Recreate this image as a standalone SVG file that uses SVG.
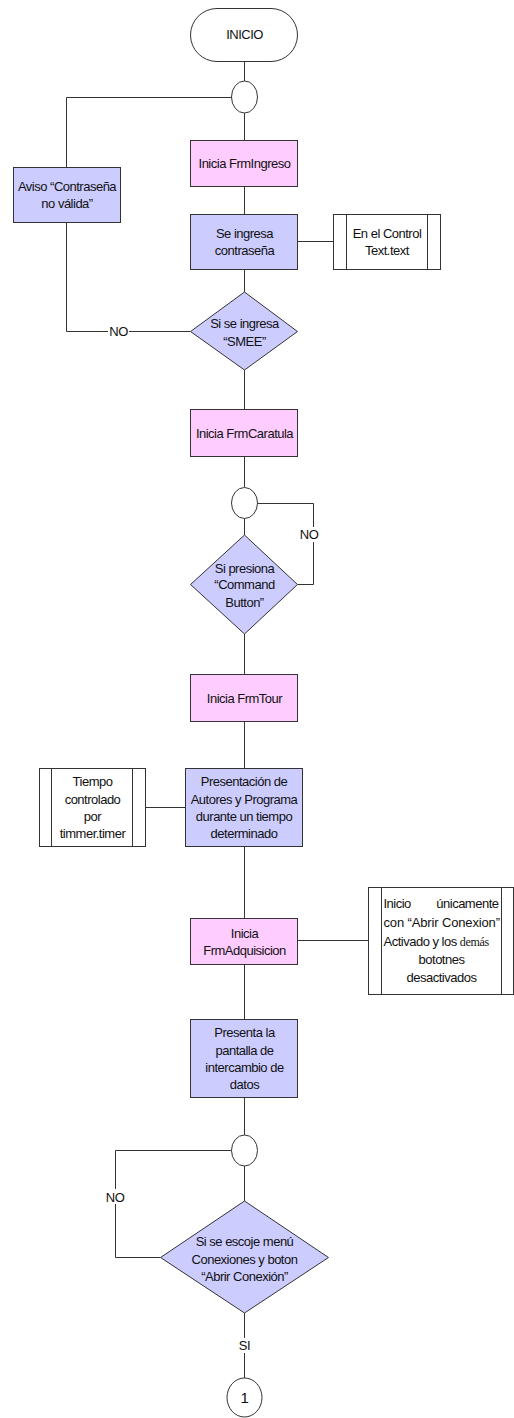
<svg xmlns="http://www.w3.org/2000/svg" width="514" height="1418" viewBox="0 0 514 1418">
  <style>
    .shape { stroke: #333; stroke-width: 1; }
    .proc { fill: #CCCCFF; }
    .form { fill: #FFCCFF; }
    .plain { fill: #FFFFFF; }
    .wire { fill: none; stroke: #333; stroke-width: 1; }
    text { font-family: "Liberation Sans", Arial, sans-serif; font-size: 13px; letter-spacing: -0.5px; fill: #111; text-anchor: middle; }
    .lbl-bg { fill: #FFFFFF; }
  </style>

  <rect width="514" height="1418" fill="#FFFFFF"/>

  <!-- connectors -->
  <g id="connectors">
    <line class="wire" x1="244.5" y1="61" x2="244.5" y2="81"/>
    <line class="wire" x1="244.5" y1="113" x2="244.5" y2="140.5"/>
    <line class="wire" x1="244.5" y1="186.5" x2="244.5" y2="214.5"/>
    <line class="wire" x1="244.5" y1="269.5" x2="244.5" y2="292"/>
    <line class="wire" x1="244.5" y1="370" x2="244.5" y2="409.5"/>
    <line class="wire" x1="244.5" y1="456.5" x2="244.5" y2="487.5"/>
    <line class="wire" x1="244.5" y1="518.5" x2="244.5" y2="535"/>
    <line class="wire" x1="244.5" y1="634" x2="244.5" y2="674.5"/>
    <line class="wire" x1="244.5" y1="721.5" x2="244.5" y2="768.5"/>
    <line class="wire" x1="244.5" y1="846.5" x2="244.5" y2="918.5"/>
    <line class="wire" x1="244.5" y1="964.5" x2="244.5" y2="1019.5"/>
    <line class="wire" x1="244.5" y1="1097.5" x2="244.5" y2="1135"/>
    <line class="wire" x1="244.5" y1="1166" x2="244.5" y2="1201"/>
    <line class="wire" x1="244.5" y1="1313" x2="244.5" y2="1378"/>

    <!-- password retry loop -->
    <polyline class="wire" points="190.5,331.5 66.5,331.5 66.5,222.5"/>
    <polyline class="wire" points="66.5,167.5 66.5,97.5 231.5,97.5"/>
    <!-- button wait loop -->
    <polyline class="wire" points="297.5,584.5 313.5,584.5 313.5,503.5 257.5,503.5"/>
    <!-- connection wait loop -->
    <polyline class="wire" points="160.5,1257.5 115.5,1257.5 115.5,1150.5 231.5,1150.5"/>

    <!-- annotation links -->
    <line class="wire" x1="297.5" y1="241.5" x2="333.5" y2="241.5"/>
    <line class="wire" x1="145.5" y1="807.5" x2="185.5" y2="807.5"/>
    <line class="wire" x1="297.5" y1="940.5" x2="368.5" y2="940.5"/>

    <!-- branch labels -->
    <rect class="lbl-bg" x="108" y="324" width="21" height="15"/>
    <text x="118.5" y="336">NO</text>
    <rect class="lbl-bg" x="299" y="527" width="20" height="15"/>
    <text x="309" y="539">NO</text>
    <rect class="lbl-bg" x="105" y="1189" width="20" height="15"/>
    <text x="115" y="1201.5">NO</text>
    <rect class="lbl-bg" x="237" y="1338" width="15" height="15"/>
    <text x="244.5" y="1350">SI</text>
  </g>

  <g id="inicio">
    <rect class="shape plain" x="190.5" y="8.5" width="107" height="53" rx="26.5" ry="26.5"/>
    <text x="244.5" y="39">INICIO</text>
  </g>

  <g id="union1">
    <ellipse class="shape plain" cx="244.5" cy="97" rx="13" ry="16"/>
  </g>

  <g id="frmIngreso">
    <rect class="shape form" x="190.5" y="140.5" width="107" height="46"/>
    <text x="244.5" y="168">Inicia FrmIngreso</text>
  </g>

  <g id="aviso">
    <rect class="shape proc" x="13.5" y="167.5" width="107" height="55"/>
    <text x="67" y="191">Aviso “Contraseña</text>
    <text x="67" y="208">no válida”</text>
  </g>

  <g id="ingresaClave">
    <rect class="shape proc" x="190.5" y="214.5" width="107" height="55"/>
    <text x="244.5" y="237.5">Se ingresa</text>
    <text x="244.5" y="255">contraseña</text>
  </g>

  <g id="controlText">
    <rect class="shape plain" x="333.5" y="214.5" width="107" height="55"/>
    <line class="shape" x1="346.5" y1="214.5" x2="346.5" y2="269.5"/>
    <line class="shape" x1="427.5" y1="214.5" x2="427.5" y2="269.5"/>
    <text x="387" y="237.5">En el Control</text>
    <text x="387" y="255">Text.text</text>
  </g>

  <g id="decisionClave">
    <polygon class="shape proc" points="244.5,292 297.5,331.5 244.5,370 190.5,331.5"/>
    <text x="244.5" y="327.5">Si se ingresa</text>
    <text x="244.5" y="345.5">“SMEE”</text>
  </g>

  <g id="frmCaratula">
    <rect class="shape form" x="190.5" y="409.5" width="107" height="47"/>
    <text x="244.5" y="437.5">Inicia FrmCaratula</text>
  </g>

  <g id="union2">
    <ellipse class="shape plain" cx="244.5" cy="503" rx="13" ry="15.5"/>
  </g>

  <g id="decisionBoton">
    <polygon class="shape proc" points="244.5,535 297.5,584.5 244.5,634 190.5,584.5"/>
    <text x="244.5" y="572.5">Si presiona</text>
    <text x="244.5" y="589">“Command</text>
    <text x="244.5" y="606.5">Button”</text>
  </g>

  <g id="frmTour">
    <rect class="shape form" x="190.5" y="674.5" width="107" height="47"/>
    <text x="244.5" y="702.5">Inicia FrmTour</text>
  </g>

  <g id="presentacion">
    <rect class="shape proc" x="185.5" y="768.5" width="117" height="78"/>
    <text x="244" y="786">Presentación de</text>
    <text x="244" y="803.5">Autores y Programa</text>
    <text x="244" y="821">durante un tiempo</text>
    <text x="244" y="838">determinado</text>
  </g>

  <g id="timer">
    <rect class="shape plain" x="39.5" y="768.5" width="106" height="78"/>
    <line class="shape" x1="51.5" y1="768.5" x2="51.5" y2="846.5"/>
    <line class="shape" x1="132.5" y1="768.5" x2="132.5" y2="846.5"/>
    <text x="92.5" y="786">Tiempo</text>
    <text x="92.5" y="803.5">controlado</text>
    <text x="92.5" y="821">por</text>
    <text x="92.5" y="838">timmer.timer</text>
  </g>

  <g id="frmAdquisicion">
    <rect class="shape form" x="190.5" y="918.5" width="107" height="46"/>
    <text x="244.5" y="937.5">Inicia</text>
    <text x="244.5" y="955">FrmAdquisicion</text>
  </g>

  <g id="botonesIniciales">
    <rect class="shape plain" x="368.5" y="887.5" width="145" height="107"/>
    <line class="shape" x1="381.5" y1="887.5" x2="381.5" y2="994.5"/>
    <line class="shape" x1="501.5" y1="887.5" x2="501.5" y2="994.5"/>
    <text x="383.5" y="908" style="text-anchor:start">Inicio</text>
    <text x="498.5" y="908" style="text-anchor:end">únicamente</text>
    <text x="383.5" y="927" style="text-anchor:start" textLength="116" lengthAdjust="spacing">con “Abrir Conexion”</text>
    <text x="383.5" y="946" style="text-anchor:start">Activado y los <tspan style="font-family:'Liberation Serif','Times New Roman',serif;font-size:12px;letter-spacing:-0.3px">demás</tspan></text>
    <text x="441.5" y="964">bototnes</text>
    <text x="441.5" y="982">desactivados</text>
  </g>

  <g id="intercambio">
    <rect class="shape proc" x="190.5" y="1019.5" width="107" height="78"/>
    <text x="244.5" y="1037">Presenta la</text>
    <text x="244.5" y="1054.5">pantalla de</text>
    <text x="244.5" y="1072">intercambio de</text>
    <text x="244.5" y="1089">datos</text>
  </g>

  <g id="union3">
    <ellipse class="shape plain" cx="244.5" cy="1150.5" rx="13" ry="15.5"/>
  </g>

  <g id="decisionConexion">
    <polygon class="shape proc" points="244.5,1201 328.5,1257.5 244.5,1313 160.5,1257.5"/>
    <text x="244.5" y="1246">Si se escoje menú</text>
    <text x="244.5" y="1263.5">Conexiones y boton</text>
    <text x="244.5" y="1281">“Abrir Conexión”</text>
  </g>

  <g id="conector1">
    <ellipse class="shape plain" cx="244.5" cy="1397.5" rx="17.5" ry="19.5"/>
    <text x="244.5" y="1403" style="font-size:15px">1</text>
  </g>
</svg>
